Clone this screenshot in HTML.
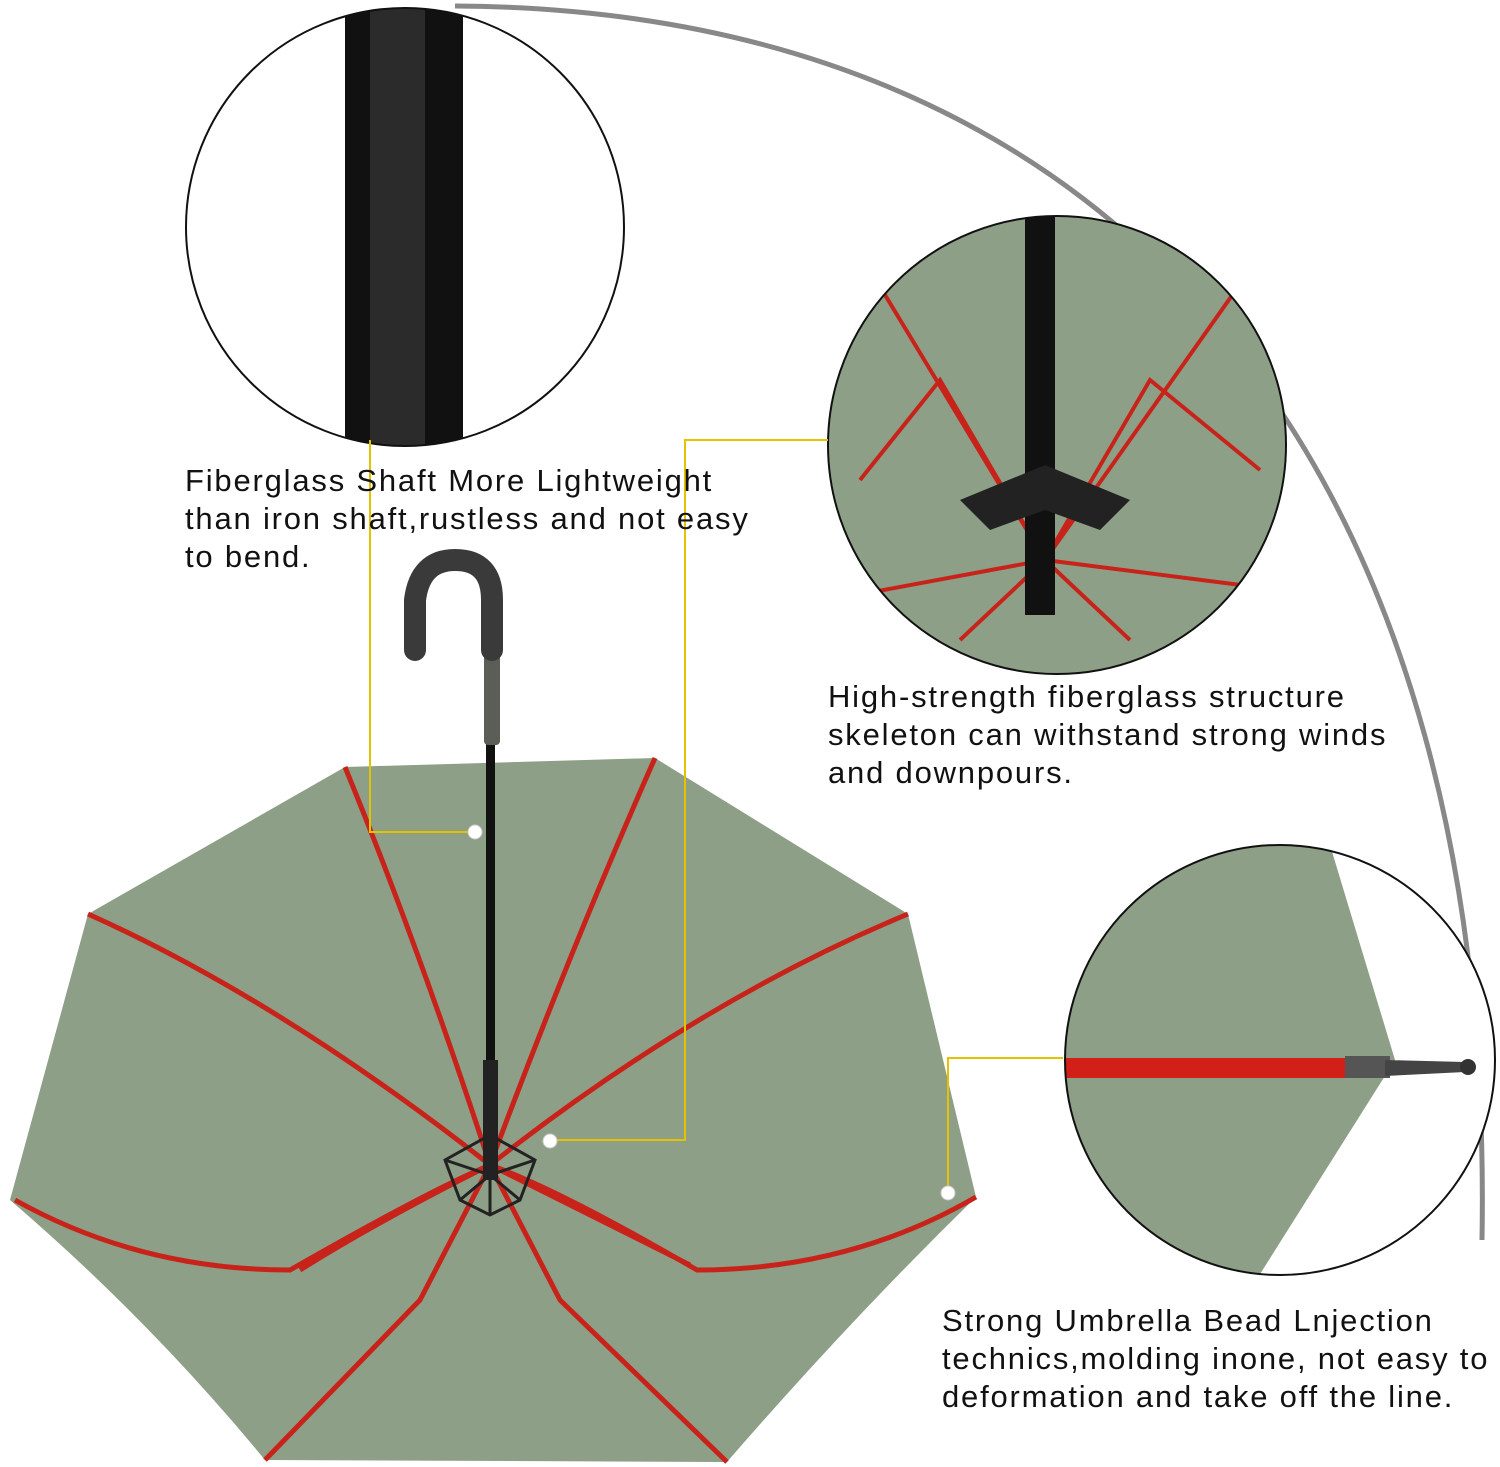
<!DOCTYPE html>
<html><head><meta charset="utf-8"><style>
html,body{margin:0;padding:0;background:#fff;}
.t{position:absolute;font-family:"Liberation Sans",sans-serif;font-size:31px;line-height:38px;letter-spacing:1.8px;color:#111;white-space:nowrap;}
</style></head><body>
<div style="position:relative;width:1500px;height:1467px;overflow:hidden;">
<svg width="1500" height="1467" viewBox="0 0 1500 1467" style="position:absolute;left:0;top:0">
<defs>
<clipPath id="c1"><circle cx="405" cy="227" r="219"/></clipPath>
<clipPath id="c2"><circle cx="1057" cy="445" r="229"/></clipPath>
<clipPath id="c3"><circle cx="1280" cy="1060" r="215"/></clipPath>
</defs>
<path d="M455,6 C1150,10 1495,500 1482,1240" fill="none" stroke="#888" stroke-width="5"/>
<!-- umbrella canopy -->
<path d="M345,767 L655,758 L908,914 L976,1197 Q850,1320 727,1462 L265,1460 Q150,1320 10,1200 L88,914 Z" fill="#8d9f86"/>
<g stroke="#c8231a" stroke-width="5" fill="none">
<path d="M490,1165 Q420,950 345,767"/>
<path d="M490,1165 Q570,950 655,758"/>
<path d="M490,1165 Q700,1000 908,914"/>
<path d="M490,1165 Q430,1190 290,1270 Q140,1270 15,1200"/>
<path d="M490,1165 Q560,1190 697,1270 Q850,1270 976,1197"/>
<path d="M490,1165 L560,1300 L727,1462"/>
<path d="M490,1165 L420,1300 L265,1460"/>
<path d="M490,1165 Q280,1000 88,914"/>
<path d="M490,1165 Q380,1220 300,1270"/>
<path d="M490,1165 Q600,1220 690,1265"/>
</g>
<g stroke="#222" stroke-width="3" fill="none">
<path d="M445,1160 L490,1135 L535,1160 L520,1200 L490,1215 L460,1200 Z"/>
<path d="M445,1160 L490,1175 L535,1160 M460,1200 L490,1175 L520,1200 M490,1135 L490,1215"/>
</g>
<!-- shaft and handle -->
<rect x="486" y="740" width="9" height="440" fill="#111"/>
<rect x="483" y="1060" width="15" height="120" fill="#222"/>
<rect x="484" y="645" width="16" height="100" rx="4" fill="#5a5e57"/>
<path d="M492,650 L492,600 Q492,560 455,560 Q420,560 415,600 L415,650" fill="none" stroke="#3a3a3a" stroke-width="22" stroke-linecap="round"/>
<!-- circle 1 -->
<circle cx="405" cy="227" r="219" fill="#fff"/>
<g clip-path="url(#c1)"><rect x="345" y="0" width="118" height="460" fill="#111"/>
<rect x="370" y="0" width="55" height="460" fill="#2b2b2b"/></g>
<circle cx="405" cy="227" r="219" fill="none" stroke="#111" stroke-width="2"/>
<!-- circle 2 -->
<circle cx="1057" cy="445" r="229" fill="#8d9f86"/>
<g clip-path="url(#c2)" fill="none">
<g stroke="#c8231a" stroke-width="4">
<path d="M1045,560 L870,270"/><path d="M1045,560 L940,380 L860,480"/>
<path d="M1045,560 L1250,270"/><path d="M1045,560 L1150,380 L1260,470"/>
<path d="M1045,560 L830,600"/><path d="M1045,560 L1280,590"/>
<path d="M1045,560 L960,640"/><path d="M1045,560 L1130,640"/>
</g>
<rect x="1025" y="215" width="30" height="400" fill="#111"/>
<path d="M960,500 L1045,465 L1130,500 L1100,530 L1045,510 L990,530 Z" fill="#222"/>
</g>
<circle cx="1057" cy="445" r="229" fill="none" stroke="#111" stroke-width="2"/>
<!-- circle 3 -->
<circle cx="1280" cy="1060" r="215" fill="#fff"/>
<g clip-path="url(#c3)">
<polygon points="1050,840 1330,845 1395,1060 1250,1290 1050,1290" fill="#8d9f86"/>
<rect x="1050" y="1058" width="300" height="20" fill="#d21f17"/>
<rect x="1345" y="1056" width="45" height="22" fill="#555"/>
<path d="M1385,1060 L1465,1062 L1465,1072 L1385,1076 Z" fill="#444"/>
<circle cx="1468" cy="1067" r="8" fill="#333"/>
</g>
<circle cx="1280" cy="1060" r="215" fill="none" stroke="#111" stroke-width="2"/>
<!-- yellow leaders -->
<g stroke="#e5c200" stroke-width="2" fill="none">
<path d="M370,440 L370,832 L475,832"/>
<path d="M828,440 L685,440 L685,1140 L550,1140"/>
<path d="M1063,1058 L948,1058 L948,1193"/>
</g>
<g fill="#fff" stroke="#ccc"><circle cx="475" cy="832" r="7"/><circle cx="550" cy="1141" r="7"/><circle cx="948" cy="1193" r="7"/></g>
</svg>
<div class="t" style="left:185px;top:462px;">Fiberglass Shaft More Lightweight<br>than iron shaft,rustless and not easy<br>to bend.</div>
<div class="t" style="left:828px;top:678px;">High-strength fiberglass structure<br>skeleton can withstand strong winds<br>and downpours.</div>
<div class="t" style="left:942px;top:1302px;">Strong Umbrella Bead Lnjection<br>technics,molding inone, not easy to<br>deformation and take off the line.</div>
</div>
</body></html>
